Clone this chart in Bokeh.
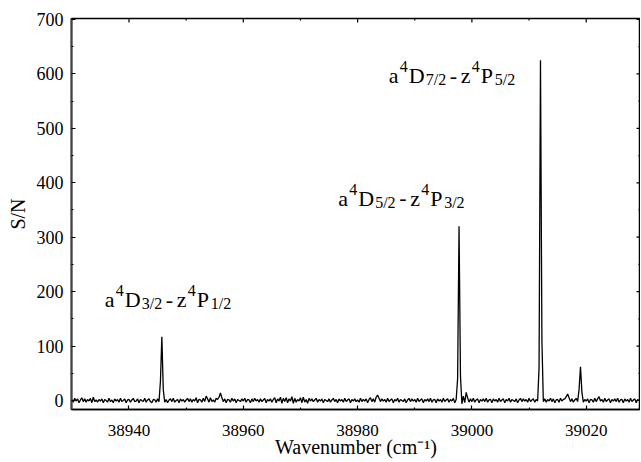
from bokeh.plotting import figure
from bokeh.models import Label, FixedTicker, Range1d, ColumnDataSource
from bokeh.embed import file_html
from bokeh.resources import INLINE
import numpy as np

# ---------------- data ----------------
wn_start = 38930.0      # first sample (cm^-1)
wn_step = 0.25          # sampling step (cm^-1)
sn_values = [
    2, -3, 4, -1, 3, -4, 1, 5, -2, 3, -3, 2, -1, 4, -4, 6, -2, 1, -3, 2,
    -1, 3, -4, 2, 0, -3, 4, -2, 1, -4, 3, -1, 2, -3, 4, -2, 0, 3, -4, 1,
    2, -3, 1, 4, -2, -1, 3, -4, 2, 0, -2, 4, -3, 1, 3, -2, -4, 2, 1, -3,
    3, -2, 35, 117, 20, -3, 2, -4, 1, 3, -2, 4, -3, 0, 2, -4, 3, -1, 2, -3,
    1, 4, -2, 3, -3, 2, -1, 5, -4, 2, 1, -3, 4, -2, 8, 3, -3, 5, -2, 1,
    -3, 4, 2, 6, 14, 5, -2, 3, -4, 2, 1, -3, 4, -1, 3, -4, 2, 0, -2, 3,
    -1, 4, -3, 2, 1, -4, 3, -2, 4, -1, 2, -3, 3, -2, 1, 4, -4, 2, -1, 3,
    -3, 2, 5, -4, 3, -1, 6, -5, 4, -2, 5, -4, 3, -1, 7, -5, 4, -3, 2, -1,
    5, -4, 6, -3, 2, -5, 4, -1, 3, -2, 1, 4, -3, 2, -1, 3, -4, 2, 0, -2,
    3, -3, 1, 4, -2, 2, -4, 3, -1, 2, -3, 4, -2, 1, 3, -4, 2, -1, 3, -2,
    1, -3, 4, -2, 2, -1, 3, -4, 2, 5, -2, 3, -3, 6, 10, 4, -2, 3, -1, 2,
    -3, 4, -2, 1, 3, -4, 2, -1, 4, -3, 2, 0, -2, 3, -4, 1, 4, -2, 3, -1,
    2, -3, 4, -2, 1, 3, -4, 2, -1, 3, -2, 4, -3, 1, 2, -4, 3, -1, 2, -3,
    4, -2, 1, 3, -3, 2, -1, 4, -4, 2, 40, 320, 45, -6, 8, -4, 15, 5, -3, 3,
    -2, 4, -3, 1, 3, -4, 2, -1, 3, -2, 4, -3, 1, 2, -4, 3, -1, 2, -3, 4,
    -2, 1, 3, -4, 2, -1, 4, -3, 2, 0, -2, 3, -4, 1, 4, -2, 3, -1, 2, -3,
    4, -2, 1, 3, -3, 2, -1, 60, 625, 110, -2, 3, -3, 2, -1, 4, -2, 3, -4, 1,
    2, -3, 4, -1, 2, 3, 7, 12, 5, -2, 3, -3, 1, 4, -2, 20, 62, 15, -3, 2,
    -1, 3, -4, 2, 1, -3, 4, -2, 3, 7, -1, 2, -3, 4, -2, 1, 3, -4, 2, -1,
    3, -2, 4, -3, 1, 2, -4, 3, -1, 2, -3, 4, -2, 1, 3, -4, 2, 0, -2, 3,
    1,
]
x_major_ticks = [38940, 38960, 38980, 39000, 39020]
x_minor_ticks = [38930, 38950, 38970, 38990, 39010, 39030]
y_major_ticks = [0, 100, 200, 300, 400, 500, 600, 700]
y_minor_ticks = [50, 150, 250, 350, 450, 550, 650]

# transitions: lower-level J, upper-level J
trans_lower = ["3/2", "5/2", "7/2"]
trans_upper = ["1/2", "3/2", "5/2"]

# ---------------- figure ----------------
X0, X1 = 38929.94, 39029.5
Y0, Y1 = -16.5, 701.8
wavenumber = wn_start + wn_step * np.arange(len(sn_values))
src = ColumnDataSource(dict(x=wavenumber, y=np.array(sn_values, dtype=float)))

FONT = "Liberation Serif"

p = figure(width=640, height=462,
           x_range=Range1d(X0, X1), y_range=Range1d(Y0, Y1),
           output_backend="svg", toolbar_location=None,
           min_border_left=71, min_border_right=0,
           min_border_top=18, min_border_bottom=53,
           background_fill_color="white", border_fill_color="white")

p.line("x", "y", source=src, color="black", line_width=1.3)

p.xgrid.visible = False
p.ygrid.visible = False
p.outline_line_color = "black"
p.outline_line_width = 1.5

def style_axis(ax, major, minor, size):
    ax.ticker = FixedTicker(ticks=major, minor_ticks=minor)
    ax.major_tick_in = 4
    ax.major_tick_out = 0
    ax.minor_tick_in = 2
    ax.minor_tick_out = 0
    ax.major_tick_line_color = "black"
    ax.minor_tick_line_color = "black"
    ax.major_tick_line_width = 1.2
    ax.minor_tick_line_width = 1.2
    ax.major_label_text_font = FONT
    ax.major_label_text_font_size = size
    ax.major_label_text_color = "black"
    ax.axis_label_text_font = FONT
    ax.axis_label_text_font_size = "20px"
    ax.axis_label_text_font_style = "normal"
    ax.axis_label_text_color = "black"

xa = p.xaxis[0]
style_axis(xa, x_major_ticks, x_minor_ticks, "17px")
xa.axis_label = "Wavenumber (cm\u207b\u00b9)"
xa.major_label_standoff = 15
xa.axis_label_standoff = -3
xa.axis_line_color = "black"
xa.axis_line_width = 1.5
xa.formatter.use_scientific = False

ya = p.yaxis[0]
style_axis(ya, y_major_ticks, y_minor_ticks, "18px")
ya.axis_label = "S/N"
ya.major_label_standoff = 8
ya.axis_label_standoff = 5
ya.axis_line_color = "#444444"
ya.axis_line_width = 2

# inward ticks on the top and right frame edges (half of each dash is clipped)
p.scatter(x_major_ticks, [Y1] * len(x_major_ticks), marker="dash", angle=np.pi / 2,
          size=8, line_color="black", line_width=1.2)
p.scatter(x_minor_ticks, [Y1] * len(x_minor_ticks), marker="dash", angle=np.pi / 2,
          size=4, line_color="black", line_width=1.2)
p.scatter([X1] * len(y_major_ticks), y_major_ticks, marker="dash",
          size=8, line_color="black", line_width=1.2)
p.scatter([X1] * len(y_minor_ticks), y_minor_ticks, marker="dash",
          size=4, line_color="black", line_width=1.2)

# ---------------- transition labels ----------------
anchors = [(38935.77, 185), (38976.6, 371.7), (38985.45, 596.5)]
piece_dx = [0, 11, 20, 37, 61, 72, 83, 92, 106]

for (ax_, ay_), lo, up in zip(anchors, trans_lower, trans_upper):
    pieces = [("a", "n"), ("4", "sup"), ("D", "n"), (lo, "sub"),
              ("-", "n"), ("z", "n"), ("4", "sup"), ("P", "n"), (up, "sub")]
    for (txt, kind), dx in zip(pieces, piece_dx):
        if kind == "n":
            size, dy = "22px", 0
        elif kind == "sup":
            size, dy = "16px", 9
        else:
            size, dy = "16px", -4
        p.add_layout(Label(x=ax_, y=ay_, x_offset=dx, y_offset=dy, text=txt,
                           text_font=FONT, text_font_size=size,
                           text_color="black", text_baseline="alphabetic",
                           text_align="left"))

open("out.html", "w").write(file_html(p, INLINE))
